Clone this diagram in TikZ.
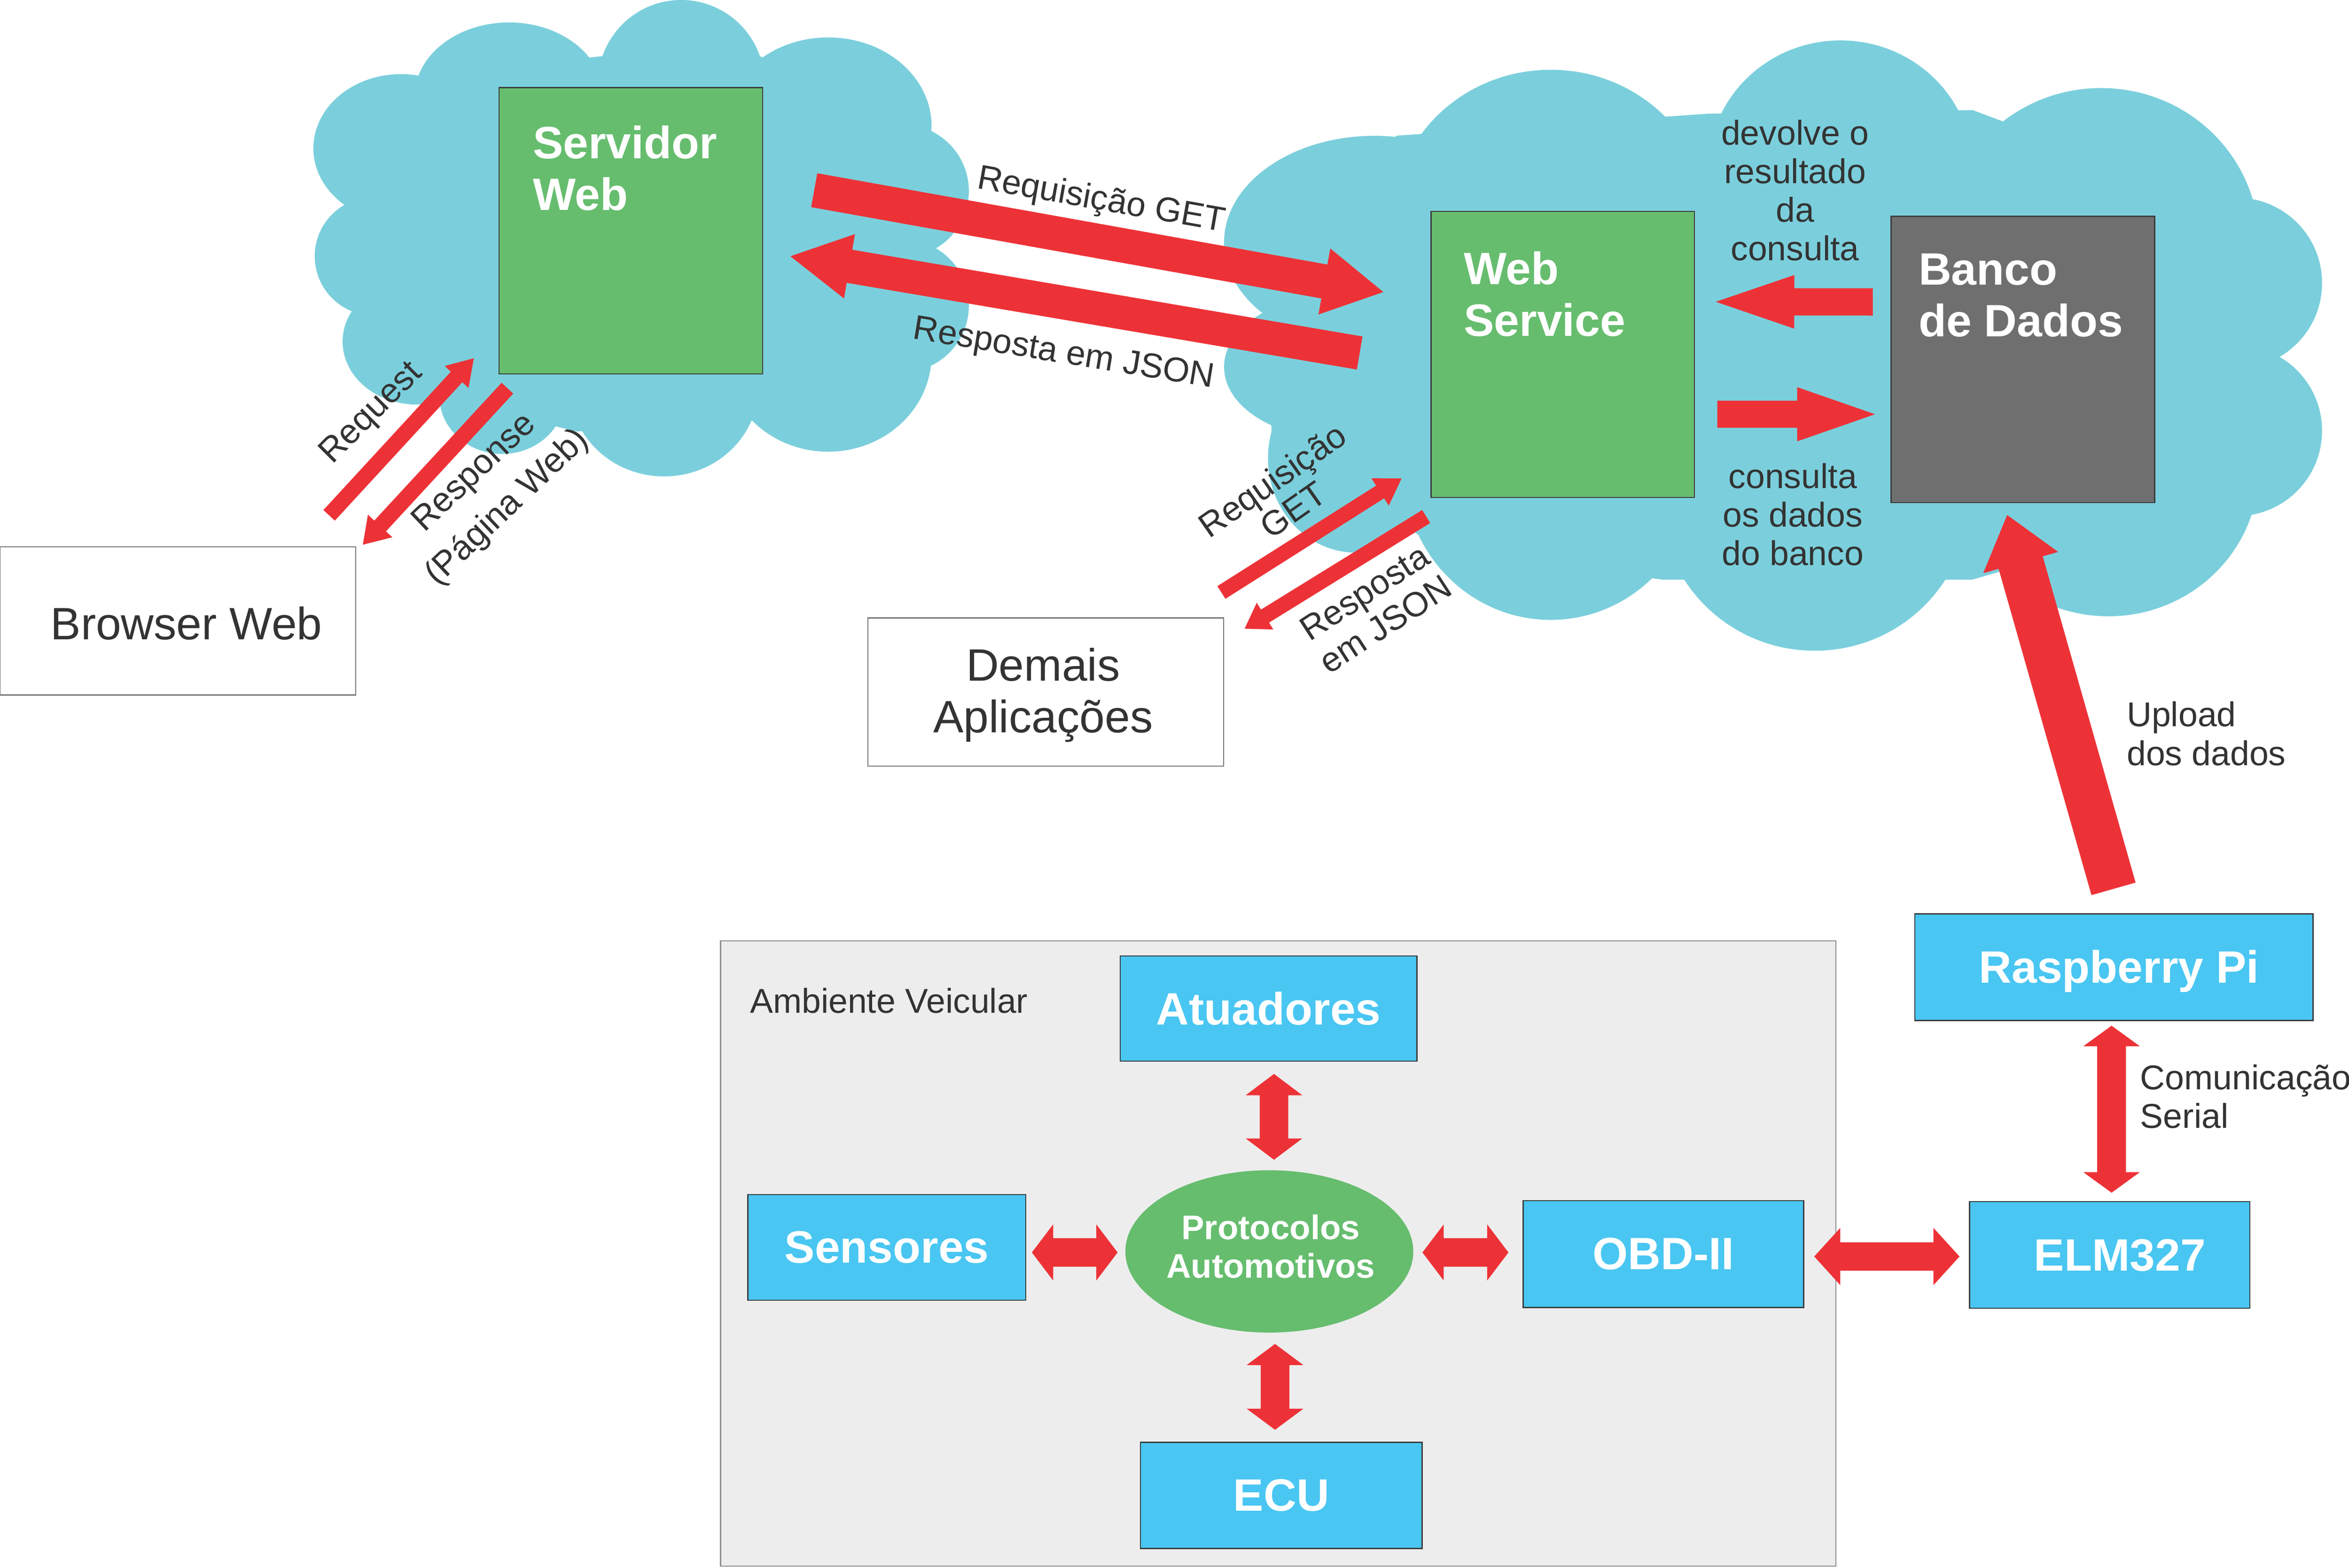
\documentclass[tikz,border=0pt]{standalone}
\usepackage{fontspec}
\setmainfont{Liberation Sans}
\usetikzlibrary{calc,shapes.geometric}
\definecolor{cloudc}{HTML}{7BCFDC}
\definecolor{greenc}{HTML}{66BD6E}
\definecolor{grayc}{HTML}{6F6F6F}
\definecolor{bluec}{HTML}{49C6F2}
\definecolor{redc}{HTML}{ED3237}
\definecolor{envc}{HTML}{EDEDED}
\definecolor{envline}{HTML}{8C8C8C}
\definecolor{txtc}{HTML}{333333}
\definecolor{linec}{HTML}{3C3C3C}
\definecolor{wline}{HTML}{777777}
% tail, tip, half shaft width, half head width, head length
\newcommand\blockarrow[5]{%
  \coordinate (ba-p) at ($(#2)!#5!(#1)$);
  \fill[redc] ($(#1)!#3!90:(#2)$) -- ($(ba-p)!#3!90:(#2)$) -- ($(ba-p)!#4!90:(#2)$) -- (#2)
     -- ($(ba-p)!#4!-90:(#2)$) -- ($(ba-p)!#3!-90:(#2)$) -- ($(#1)!#3!-90:(#2)$) -- cycle;}
% end 1, end 2, half shaft width, half head width, head length
\newcommand\dblarrow[5]{%
  \coordinate (da-p) at ($(#1)!#5!(#2)$);
  \coordinate (da-q) at ($(#2)!#5!(#1)$);
  \fill[redc] (#1) -- ($(da-p)!#4!90:(#2)$) -- ($(da-p)!#3!90:(#2)$) -- ($(da-q)!#3!-90:(#1)$)
     -- ($(da-q)!#4!-90:(#1)$) -- (#2) -- ($(da-q)!#4!90:(#1)$) -- ($(da-q)!#3!90:(#1)$)
     -- ($(da-p)!#3!-90:(#2)$) -- ($(da-p)!#4!-90:(#2)$) -- cycle;}
\tikzset{
  box/.style={draw=linec, line width=0.8pt, inner sep=0pt, outer sep=0pt},
  bbox/.style={box, fill=bluec, text=white, font=\bfseries\fontsize{30.3}{34.5}\selectfont},
  titlew/.style={text=white, font=\bfseries\fontsize{30.3}{34.5}\selectfont, inner sep=0pt},
  lbl/.style={text=txtc, font=\fontsize{23}{26}\selectfont, inner sep=0pt},
  big/.style={text=txtc, font=\fontsize{30.3}{34.4}\selectfont, inner sep=0pt},
}
\begin{document}
\begin{tikzpicture}[x=1pt,y=-1pt]
\useasboundingbox (0,0) rectangle (1568,1047);
\fill[white] (0,0) rectangle (1568,1047);
% ---------- left cloud
\fill[cloudc] (278.2,51.0) -- (401.9,37.5) -- (507.2,37.5) -- (614.3,89.1) -- (614.3,165.7)
  -- (614.3,242.5) -- (507.8,280.6) -- (384.8,288.1) -- (293.8,265.6) -- (243.1,205.0) -- (243.1,140.1) -- cycle;
\fill[cloudc] (454.7,55.5) circle[radius=55.5pt];
\fill[cloudc] (339.8,64.5) ellipse[x radius=63pt, y radius=49.5pt];
\fill[cloudc] (267.7,99.0) ellipse[x radius=58.5pt, y radius=49.5pt];
\fill[cloudc] (249.7,171.1) circle[radius=39.6pt];
\fill[cloudc] (278.2,228.1) ellipse[x radius=49.5pt, y radius=42pt];
\fill[cloudc] (335.2,264.1) ellipse[x radius=42pt, y radius=39pt];
\fill[cloudc] (443.3,258.1) ellipse[x radius=63pt, y radius=60pt];
\fill[cloudc] (552.8,237.1) ellipse[x radius=69pt, y radius=64.5pt];
\fill[cloudc] (602.3,204.1) circle[radius=44.4pt];
\fill[cloudc] (602.3,127.5) circle[radius=44.4pt];
\fill[cloudc] (552.8,84.0) ellipse[x radius=69pt, y radius=59pt];
% ---------- right cloud
\fill[cloudc] (932.2,90.6) -- (1140.4,75.9) -- (1316.7,73.5) -- (1493.1,139.6) -- (1493.1,238.6)
  -- (1493.1,335.6) -- (1316.7,387.0) -- (1109.5,387.0) -- (961.6,367.4) -- (848.9,289.0) -- (844.0,208.2) -- cycle;
\fill[cloudc] (917.5,161.7) ellipse[x radius=100.4pt, y radius=71pt];
\fill[cloudc] (1035.1,147.0) ellipse[x radius=105.3pt, y radius=100.4pt];
\fill[cloudc] (1228.6,112.7) ellipse[x radius=88.2pt, y radius=85.7pt];
\fill[cloudc] (1402.5,161.7) ellipse[x radius=105.3pt, y radius=102.9pt];
\fill[cloudc] (1493,189) circle[radius=57pt];
\fill[cloudc] (1493,287.6) circle[radius=57pt];
\fill[cloudc] (1407.4,313.5) ellipse[x radius=100.4pt, y radius=98pt];
\fill[cloudc] (1211.4,333.1) ellipse[x radius=102.9pt, y radius=101.4pt];
\fill[cloudc] (1035.1,313.5) ellipse[x radius=98pt, y radius=100.4pt];
\fill[cloudc] (905.2,306) ellipse[x radius=58.8pt, y radius=63pt];
\fill[cloudc] (893.0,245.0) ellipse[x radius=75.9pt, y radius=48pt];
% ---------- vehicle environment
\node[draw=envline, line width=0.8pt, fill=envc, inner sep=0pt, minimum width=744.5pt, minimum height=417.4pt] (amb) at (853.25,837.0) {};
% ---------- boxes
\node[box, fill=greenc, minimum width=175.9pt, minimum height=191.2pt] (sw) at (421.05,154.1) {};
\node[box, fill=greenc, minimum width=175.9pt, minimum height=191.1pt] (ws) at (1043.15,236.65) {};
\node[box, fill=grayc, minimum width=175.9pt, minimum height=191.1pt] (bd) at (1350.35,240.05) {};
\node[box, draw=wline, fill=white, minimum width=237.4pt, minimum height=99pt] (bw) at (118.7,414.6) {};
\node[box, draw=wline, fill=white, minimum width=237.4pt, minimum height=99pt] (da) at (698.0,462.1) {};
\node[bbox, minimum width=198.1pt, minimum height=70.3pt] (atu) at (846.75,673.45) {Atuadores};
\node[bbox, minimum width=185.5pt, minimum height=70.5pt] (sen) at (591.95,832.95) {Sensores};
\node[bbox, minimum width=187.3pt, minimum height=71.3pt] (obd) at (1110.35,837.35) {OBD-II};
\node[bbox, minimum width=188pt, minimum height=71pt] (ecu) at (855.3,998.5) {ECU};
\node[bbox, minimum width=265.8pt, minimum height=71.2pt] (rpi) at (1411,645.9) {};
\node[bbox, minimum width=187.1pt, minimum height=71.2pt] (elm) at (1408.25,837.9) {};
\node[ellipse, fill=greenc, inner sep=0pt, minimum width=192.2pt, minimum height=108.4pt] (prot) at (847.3,835.6) {};
% ---------- box texts
\node[titlew, align=left, anchor=north west] (swt) at (355.5,81.45) {\strut Servidor\\\strut Web};
\node[titlew, align=left, anchor=north west] (wst) at (977,165.45) {\strut Web\\\strut Service};
\node[titlew, align=left, anchor=north west] (bdt) at (1280.5,165.95) {\strut Banco\\\strut de Dados};
\node[titlew, anchor=base] (rpit) at (1414.5,656.3) {Raspberry Pi};
\node[titlew, anchor=base] (elmt) at (1415,848.6) {ELM327};
\node[titlew, align=center, font=\bfseries\fontsize{22.8}{25.5}\selectfont] (prott) at (848.2,835.3) {\strut Protocolos\\\strut Automotivos};
\node[big, anchor=base] (bwt) at (124.4,427) {Browser Web};
\node[big, align=center, anchor=north] (dat) at (696.3,430.5) {\strut Demais\\\strut Aplicações};
% ---------- arrows
\coordinate (a1s) at (543.5,127.0); \coordinate (a1e) at (923.4,195.0);
\blockarrow{a1s}{a1e}{11.5pt}{22.4pt}{40pt}
\coordinate (a2s) at (907.6,235.7); \coordinate (a2e) at (527.6,171.1);
\blockarrow{a2s}{a2e}{11.2pt}{21.8pt}{40pt}
\coordinate (a3s) at (1250.1,201.6); \coordinate (a3e) at (1145.3,201.5);
\blockarrow{a3s}{a3e}{9.1pt}{17.9pt}{52.4pt}
\coordinate (a4s) at (1146.3,276.6); \coordinate (a4e) at (1251.6,276.6);
\blockarrow{a4s}{a4e}{9.05pt}{18.1pt}{52pt}
\coordinate (a5s) at (1410.8,593.5); \coordinate (a5e) at (1339.8,343.9);
\blockarrow{a5s}{a5e}{15.3pt}{26pt}{33pt}
\coordinate (a6s) at (219.7,344.1); \coordinate (a6e) at (316.3,239.2);
\blockarrow{a6s}{a6e}{5.2pt}{10.8pt}{17pt}
\coordinate (a7s) at (338.7,259.2); \coordinate (a7e) at (242.2,363.7);
\blockarrow{a7s}{a7e}{5.3pt}{11.1pt}{17pt}
\coordinate (a8s) at (815.3,395.6); \coordinate (a8e) at (935.6,319.4);
\blockarrow{a8s}{a8e}{5pt}{10.8pt}{17pt}
\coordinate (a9s) at (952,344.9); \coordinate (a9e) at (830.8,419.8);
\blockarrow{a9s}{a9e}{5.1pt}{10.5pt}{16pt}
\coordinate (d1a) at (850.4,717.1); \coordinate (d1b) at (850.4,774.4);
\dblarrow{d1a}{d1b}{9.5pt}{18.85pt}{14.2pt}
\coordinate (d2a) at (688.8,836.3); \coordinate (d2b) at (746.0,836.3);
\dblarrow{d2a}{d2b}{9.55pt}{18.75pt}{14.2pt}
\coordinate (d3a) at (949.5,836.3); \coordinate (d3b) at (1006.9,836.3);
\dblarrow{d3a}{d3b}{9.55pt}{18.75pt}{14.2pt}
\coordinate (d4a) at (851.1,897.4); \coordinate (d4b) at (851.1,954.7);
\dblarrow{d4a}{d4b}{9.5pt}{18.95pt}{14.1pt}
\coordinate (d5a) at (1211.0,839.0); \coordinate (d5b) at (1308.0,839.0);
\dblarrow{d5a}{d5b}{9.5pt}{19.1pt}{17.4pt}
\coordinate (d6a) at (1409.5,684.9); \coordinate (d6b) at (1409.5,796.4);
\dblarrow{d6a}{d6b}{9.6pt}{18.85pt}{13.7pt}
% ---------- labels
\node[lbl, rotate=-10] (lreq) at (734.9,135.0) {\strut Requisição GET};
\node[lbl, rotate=-9.3] (lres) at (709.9,237.3) {\strut Resposta em JSON};
\node[lbl, align=center, anchor=north, font=\fontsize{23}{25.8}\selectfont] (ldev) at (1198.2,78.4) {\strut devolve o\\\strut resultado\\\strut da\\\strut consulta};
\node[lbl, align=center, anchor=north, font=\fontsize{23}{25.8}\selectfont] (lcon) at (1196.7,307.7) {\strut consulta\\\strut os dados\\\strut do banco};
\node[lbl, align=left, anchor=north west] (lup) at (1419.5,466.8) {\strut Upload\\\strut dos dados};
\node[lbl, align=left, anchor=north west] (lcom) at (1428.5,709.0) {\strut Comunicação\\\strut Serial};
\node[lbl, anchor=base west] (lamb) at (500.5,676.4) {Ambiente Veicular};
\node[lbl, rotate=45] (lrq) at (248.5,276.5) {\strut Request};
\node[lbl, rotate=43.5, align=center, font=\fontsize{23}{32}\selectfont] (lrs) at (327.5,327.1) {\strut Response\\\strut (Página Web)};
\node[lbl, rotate=35, align=center, font=\fontsize{23}{24}\selectfont] (lrq2) at (858.0,333.1) {\strut Requisição\\\strut GET};
\node[lbl, rotate=33, align=center, font=\fontsize{23}{25.4}\selectfont] (lrs2) at (919.2,408.4) {\strut Resposta\\\strut em JSON};
\end{tikzpicture}
\end{document}
